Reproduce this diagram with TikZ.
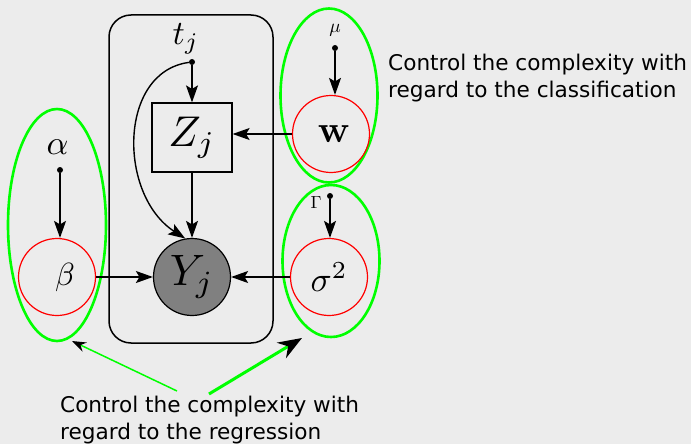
\documentclass[tikz,border=0pt]{standalone}
\usepackage[no-math]{fontspec}
\newfontfamily\dejavu{DejaVu Sans}
\usetikzlibrary{arrows.meta,shapes.geometric}
\definecolor{bg}{HTML}{ECECEC}
\definecolor{grn}{HTML}{00FF00}
\definecolor{yfill}{HTML}{808080}
\newcommand{\mysc}[2]{\scalebox{#1}{$#2$}}
\begin{document}
\begin{tikzpicture}[x=1pt,y=-1pt,
  arr/.style={-{Stealth[length=17pt,width=12pt,inset=3.5pt]}, line width=1.4pt},
  rv/.style={circle, draw=red, line width=1.2pt, minimum size=77pt, inner sep=0pt},
  grp/.style={ellipse, draw=grn, line width=2.6pt, inner sep=0pt},
  dotn/.style={circle, fill=black, inner sep=0pt, minimum size=6pt},
  lbl/.style={inner sep=0pt},
  txt/.style={font=\dejavu\fontsize{21.6}{27}\selectfont, align=left, anchor=base west, inner sep=0pt}]
\fill[bg] (0,0) rectangle (691,444);
\useasboundingbox (0,0) rectangle (691,444);
% plate
\node[draw, rounded corners=22pt, line width=1.5pt, minimum width=164pt, minimum height=328pt, inner sep=0pt] (plate) at (191,179) {};
% groups
\node[grp, minimum width=98pt, minimum height=232pt] (gB) at (57,225) {};
\node[grp, minimum width=97pt, minimum height=174pt] (gW) at (329,95.5) {};
\node[grp, minimum width=97pt, minimum height=152pt] (gS) at (331,261) {};
% nodes
\node[dotn] (tdot) at (192,62) {};
\node[lbl] (tl) at (186,39) {\mysc{3.4}{t_j}};
\node[draw, line width=1.2pt, minimum width=80pt, minimum height=69pt, inner sep=0pt] (Z) at (192,137.5) {\mysc{4.3}{Z_j}};
\node[circle, draw, fill=yfill, line width=1.2pt, minimum size=77pt, inner sep=0pt] (Y) at (192,277) {\mysc{4.4}{Y_j}};
\node[rv] (w) at (331,134) {\hspace*{6pt}\mysc{3.8}{\mathbf{w}}};
\node[lbl] (mu) at (335,30) {\mysc{1.9}{\mu}};
\node[dotn] (mudot) at (335,48) {};
\node[rv] (s) at (329,277) {\mysc{3.5}{\sigma^2}};
\node[lbl] (G) at (316,202.5) {\mysc{1.75}{\Gamma}};
\node[dotn] (Gdot) at (330,196) {};
\node[rv] (b) at (57,277) {\hspace*{16pt}\mysc{3.2}{\beta}};
\node[lbl] (al) at (57.5,147.5) {\mysc{3.4}{\alpha}};
\node[dotn] (adot) at (60,170) {};
% arrows
\draw[arr] (tdot) -- (Z);
\draw[arr] (tdot) .. controls (118,72) and (118,195) .. (Y.100);
\draw[arr] (Z) -- (Y);
\draw[arr] (w.west) -- (w.west -| Z.east);
\draw[arr] (s) -- (Y);
\draw[arr] (b) -- (Y);
\draw[arr] (mudot) -- (mudot |- w.north);
\draw[arr] (Gdot) -- (Gdot |- s.north);
\draw[arr] (adot) -- (adot |- b.north);
% texts
\node[txt] (ctext) at (388,97) {Control the complexity with\\regard to the classification};
\node[txt] (rtext) at (60,439) {Control the complexity with\\regard to the regression};
\coordinate (la) at (72,341);
\coordinate (ra) at (302,338);
\coordinate (ls) at (177,391);
\coordinate (rs) at (209,394);
\draw[grn, line width=1.5pt, -{Stealth[black, length=14pt, width=10pt]}] (ls) -- (la);
\draw[grn, line width=3pt, -{Stealth[black, length=24pt, width=18pt]}] (rs) -- (ra);
\end{tikzpicture}
\end{document}
